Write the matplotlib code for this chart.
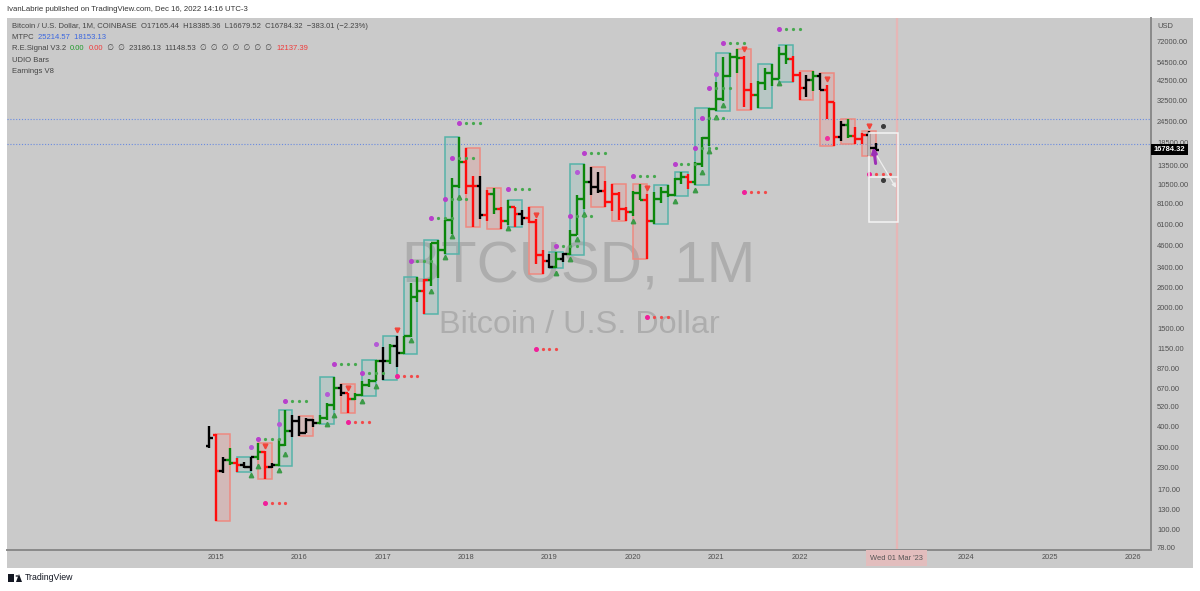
import numpy as np
import pandas as pd
import matplotlib
matplotlib.use("Agg")
import matplotlib.pyplot as plt
from matplotlib.patches import Rectangle, Circle, Polygon
from matplotlib.ticker import NullLocator, NullFormatter

FONT = ["Liberation Sans", "DejaVu Sans"]
plt.rcParams["font.family"] = FONT

# ---------------------------------------------------------------- data
months = pd.period_range("2014-12", "2022-12", freq="M")
opens = [305,
         355, 218, 254, 244, 236, 230, 263, 284, 230, 236, 313, 377,
         430, 368, 437, 416, 448, 531, 673, 624, 575, 609, 700, 742,
         963, 970, 1190, 1080, 1350, 2300, 2480, 2870, 4730, 4340, 6450, 10200,
         14160, 10220, 10330, 6920, 9240, 7490, 6390, 7730, 7000, 6630, 6330, 4020,
         3740, 3460, 3850, 4100, 5320, 8560, 10820, 10080, 9600, 8300, 9150, 7540,
         7190, 9350, 8530, 6410, 8620, 9450, 9140, 11330, 11650, 10780, 13800, 19700,
         28990, 33110, 45160, 58800, 57700, 37300, 35040, 41460, 47100, 43800, 61300, 57000,
         46200, 38500, 43200, 45500, 37700, 31800, 19950, 23300, 20050, 19420, 20490, 17165.44]
highs = [400,
         360, 265, 298, 261, 247, 265, 318, 285, 243, 336, 502, 467,
         463, 448, 440, 466, 550, 780, 705, 627, 630, 740, 760, 980,
         1160, 1210, 1350, 1350, 2780, 3000, 2930, 4750, 4980, 6470, 11500, 19890,
         17250, 11790, 11700, 9760, 10000, 7780, 8500, 7760, 7410, 7680, 6600, 4310,
         4100, 4200, 4150, 5650, 9100, 13880, 13200, 12330, 10950, 10540, 9510, 7750,
         9580, 10500, 9190, 9470, 10070, 10380, 11450, 12480, 12090, 14100, 19900, 29300,
         41990, 58350, 61790, 64900, 59600, 41300, 42300, 50500, 52950, 67000, 69000, 59100,
         47950, 45800, 48200, 47500, 40000, 32000, 24700, 25200, 22800, 21100, 21480, 18385.36]
lows = [300,
        111, 212, 236, 215, 229, 220, 253, 196, 228, 235, 305, 348,
        352, 366, 395, 413, 438, 500, 605, 480, 570, 605, 680, 740,
        750, 930, 890, 1060, 1340, 2130, 1830, 2670, 2950, 4110, 5400, 10000,
        9200, 5870, 6600, 6430, 7000, 5750, 6070, 5880, 6100, 6200, 3600, 3120,
        3400, 3380, 3700, 4060, 5300, 7500, 9060, 9350, 7710, 7300, 6520, 6430,
        6850, 8450, 3850, 6150, 8120, 8900, 8980, 10550, 9880, 10400, 13200, 17600,
        28130, 32300, 45000, 47000, 30000, 28800, 29300, 37300, 39600, 43300, 53250, 41900,
        32900, 34300, 37200, 37700, 25400, 17600, 18800, 19600, 18150, 18200, 15480, 16679.52]
closes = [340,
          218, 254, 244, 236, 230, 263, 284, 230, 236, 313, 377, 430,
          368, 437, 416, 448, 531, 673, 624, 575, 609, 700, 742, 963,
          970, 1190, 1080, 1350, 2300, 2480, 2870, 4730, 4340, 6450, 10200, 14160,
          10220, 10330, 6920, 9240, 7490, 6390, 7730, 7000, 6630, 6330, 4020, 3740,
          3460, 3850, 4100, 5320, 8560, 10820, 10080, 9600, 8300, 9150, 7540, 7190,
          9350, 8530, 6410, 8620, 9450, 9140, 11330, 11650, 10780, 13800, 19700, 28990,
          33110, 45160, 58800, 57700, 37300, 35040, 41460, 47100, 43800, 61300, 57000, 46200,
          38500, 43200, 45500, 37700, 31800, 19950, 23300, 20050, 19420, 20490, 17165, 16784.32]
# UDIO bar colouring: K = black, R = red, G = green
bar_states = ("K "
              "R K G R K K G R K G G K "
              "K K K G G G K R G G G G "
              "K G K G G G R G G G G G "
              "R R K R G R G R K R R R "
              "K G K G G G K K R R R R "
              "G G R G G G G G R G G G "
              "G G G G R R G G G G G R "
              "R K G K R R K G R R K K").split()

# R.E.Signal marks (month, price)
up_tri_months = ["2015-06", "2015-07", "2015-10", "2015-11", "2016-05", "2016-06", "2016-10",
                 "2016-12", "2017-05", "2017-08", "2017-10", "2017-11", "2017-12", "2018-07",
                 "2019-02", "2019-04", "2019-05", "2019-06", "2020-01", "2020-07", "2020-10",
                 "2020-11", "2020-12", "2021-01", "2021-02", "2021-10"]
up_tri_prices = [207, 234, 221, 275, 412, 465, 564, 690, 1291, 2495, 3945, 5212, 8870, 5794,
                 3155, 3856, 4990, 7000, 6412, 8375, 9710, 12440, 16450, 26100, 30500, 41000]
dn_tri_months = ["2015-08", "2016-08", "2017-03", "2018-11", "2020-03", "2021-05", "2022-05", "2022-11"]
dn_tri_prices = [306, 673, 1466, 6920, 9930, 64900, 43250, 23186.13]
green_seq_months = ["2015-07", "2015-11", "2016-06", "2016-10", "2017-05", "2017-08", "2017-10",
                    "2017-11", "2017-12", "2018-07", "2019-02", "2019-04", "2019-06", "2020-01",
                    "2020-07", "2020-10", "2020-11", "2020-12", "2021-02", "2021-10"]
green_seq_prices = [335, 560, 929, 817, 3725, 6680, 8590, 15030, 23900, 9800, 4550, 6840,
                    16060, 11770, 13730, 17180, 25770, 38500, 71000, 85100]
red_seq_months = ["2015-08", "2016-08", "2017-03", "2018-11", "2020-03", "2021-05", "2022-11"]
red_seq_prices = [142, 425, 787, 1130, 1746, 9480, 12137.39]
purple_dot_months = ["2015-06", "2015-10", "2016-05", "2016-12", "2019-05", "2021-01"]
purple_dot_prices = [301, 411, 623, 1218, 12340, 46500]
pink_dot_months = ["2022-05"]
pink_dot_prices = [19500]
dark_dot_months = ["2023-01", "2023-01"]
dark_dot_prices = [23186.13, 11148.53]

# drawings (month index from Jan 2015, price)
purple_arrow_m = [95.0, 94.6]
purple_arrow_p = [13400, 18000]
proj_box_m = [94.0, 98.1]
proj_levels = [21000, 11550, 6300]
proj_arrow_m = [94.5, 98.1]
proj_arrow_p = [17060, 9700]

mtpc_levels = [25214.57, 18153.13]
crosshair_month = "2023-03"
last_price = 16784.32

y_ticks = [72000, 54500, 42500, 32500, 24500, 18500, 13500, 10500, 8100, 6100, 4600, 3400,
           2600, 2000, 1500, 1150, 870, 670, 520, 400, 300, 230, 170, 130, 100, 78]
x_years = [2015, 2016, 2017, 2018, 2019, 2020, 2021, 2022, 2024, 2025, 2026]


def midx(s):
    p = pd.Period(s, freq="M")
    return (p.year - 2015) * 12 + (p.month - 1)


# ---------------------------------------------------------------- figure
W, H = 1200, 591
BG = "#cacaca"
fig = plt.figure(figsize=(W / 100, H / 100), dpi=100)
fig.patch.set_facecolor("white")
fig.add_artist(Rectangle((7 / W, 1 - 568 / H), (1193 - 7) / W, (568 - 18) / H,
                         transform=fig.transFigure, facecolor=BG, edgecolor="none", zorder=-5))

AX_L, AX_R, AX_T, AX_B = 7, 1151, 18, 550
ax = fig.add_axes([AX_L / W, 1 - AX_B / H, (AX_R - AX_L) / W, (AX_B - AX_T) / H])
ax.set_facecolor(BG)

# scale calibration (month spacing / decade height of the reference)
PX_MONTH = 6.947
X0_PX = 216.0
PX_DEC = 170.55
REF_P, REF_Y = 72000, 41.7
ax.set_xlim((AX_L - X0_PX) / PX_MONTH, (AX_R - X0_PX) / PX_MONTH)
ax.set_yscale("log")
top = 10 ** (np.log10(REF_P) + (REF_Y - AX_T) / PX_DEC)
bot = 10 ** (np.log10(REF_P) - (AX_B - REF_Y) / PX_DEC)
ax.set_ylim(bot, top)

# watermark
ax.text(0.5, 1 - (282 - AX_T) / (AX_B - AX_T), "BTCUSD, 1M", transform=ax.transAxes,
        ha="center", va="baseline", fontsize=42, color="#adadad", zorder=0.5,
        family="Liberation Sans")
ax.text(0.5, 1 - (333 - AX_T) / (AX_B - AX_T), "Bitcoin / U.S. Dollar", transform=ax.transAxes,
        ha="center", va="baseline", fontsize=23.3, color="#adadad", zorder=0.5,
        family="Liberation Sans")

# crosshair
cx = midx(crosshair_month)
ax.axvline(cx, color="#e6b6b6", lw=1.6, zorder=1)

# MTPC levels
for lv in mtpc_levels:
    ax.axhline(lv, color="#6a8be0", lw=0.8, ls=(0, (1, 1.6)), zorder=1.2)

# quarterly boxes
xm = np.array([midx(str(p)) for p in months], dtype=float)
O = np.array(opens, float); Hh = np.array(highs, float)
Lw = np.array(lows, float); C = np.array(closes, float)
start = 1  # Jan 2015
for q in range((len(xm) - start) // 3):
    sl = slice(start + 3 * q, start + 3 * q + 3)
    qh, ql = Hh[sl].max(), Lw[sl].min()
    up = C[sl][-1] > O[sl][0]
    if up:
        fc, ec = (0.30, 0.71, 0.67, 0.14), "#55b3a9"
    else:
        fc, ec = (0.94, 0.50, 0.47, 0.22), "#ee8a80"
    x_a, x_b = xm[sl][0], xm[sl][-1]
    ax.add_patch(Rectangle((x_a, ql), x_b - x_a, qh - ql, facecolor=fc, edgecolor=ec,
                           lw=1.1, zorder=2))

# bars
cmap = {"G": "#0b870b", "R": "#ff0d0d", "K": "#000000"}
cols = [cmap[s] for s in bar_states]
tick = 0.5
ax.vlines(xm, Lw, Hh, colors=cols, lw=1.7, zorder=3)
ax.hlines(O, xm - tick, xm, colors=cols, lw=1.7, zorder=3)
ax.hlines(C, xm, xm + tick, colors=cols, lw=1.7, zorder=3)

# signal marks
HEAD, DOT = 2.6, 1.3
ax.plot([midx(m) for m in up_tri_months], up_tri_prices, ls="none", marker="^", ms=3.2,
        color="#3c9a48", zorder=4)
ax.plot([midx(m) for m in dn_tri_months], dn_tri_prices, ls="none", marker="v", ms=3.4,
        color="#f2443a", zorder=4)
for m, p in zip(green_seq_months, green_seq_prices):
    i = midx(m)
    ax.plot([i], [p], ls="none", marker="o", ms=HEAD, color="#b83fcc", zorder=4)
    ax.plot([i + 1, i + 2, i + 3], [p] * 3, ls="none", marker="o", ms=DOT, color="#46a84e", zorder=4)
for m, p in zip(red_seq_months, red_seq_prices):
    i = midx(m)
    ax.plot([i], [p], ls="none", marker="o", ms=HEAD, color="#f01f9a", zorder=4)
    ax.plot([i + 1, i + 2, i + 3], [p] * 3, ls="none", marker="o", ms=DOT, color="#f24a4a", zorder=4)
ax.plot([midx(m) for m in purple_dot_months], purple_dot_prices, ls="none", marker="o", ms=HEAD,
        color="#b45ad6", zorder=4)
ax.plot([midx(m) for m in pink_dot_months], pink_dot_prices, ls="none", marker="o", ms=HEAD,
        color="#f0309e", zorder=4)
ax.plot([midx(m) for m in dark_dot_months], dark_dot_prices, ls="none", marker="o", ms=HEAD,
        color="#3a3a3a", zorder=4)

# projection drawing
ax.add_patch(Rectangle((proj_box_m[0], proj_levels[2]), proj_box_m[1] - proj_box_m[0],
                       proj_levels[0] - proj_levels[2], facecolor="none", edgecolor="#f4f4f4",
                       lw=1.1, zorder=4.5))
ax.hlines(proj_levels[1], proj_box_m[0], proj_box_m[1], color="#f4f4f4", lw=1.1, zorder=4.5)
ax.annotate("", xy=(proj_arrow_m[1], proj_arrow_p[1]), xytext=(proj_arrow_m[0], proj_arrow_p[0]),
            arrowprops=dict(arrowstyle="-|>", color="#eeeeee", lw=0.9, mutation_scale=6),
            zorder=4.6)
ax.annotate("", xy=(purple_arrow_m[1], purple_arrow_p[1]), xytext=(purple_arrow_m[0], purple_arrow_p[0]),
            arrowprops=dict(arrowstyle="-|>", color="#9c2fb5", lw=2.2, mutation_scale=7),
            zorder=4.7)

# axes styling
for s in ["top", "left"]:
    ax.spines[s].set_visible(False)
for s in ["right", "bottom"]:
    ax.spines[s].set_color("#8a8a8a")
    ax.spines[s].set_linewidth(1.4)
ax.yaxis.tick_right()
ax.set_yticks(y_ticks, [f"{v:.2f}" for v in y_ticks])
ax.yaxis.set_minor_locator(NullLocator())
ax.yaxis.set_minor_formatter(NullFormatter())
ax.set_xticks([(y - 2015) * 12 for y in x_years], [str(y) for y in x_years])
ax.tick_params(axis="y", length=0, pad=4.3, labelsize=5.4, labelcolor="#4f4f4f")
ax.tick_params(axis="x", length=0, pad=3.0, labelsize=5.4, labelcolor="#4f4f4f")

ax.text(1 + 6 / (AX_R - AX_L), 1 - (26.7 - AX_T) / (AX_B - AX_T), "USD", transform=ax.transAxes,
        ha="left", va="center", fontsize=5.4, color="#4f4f4f")
ax.text(1 + 2.5 / (AX_R - AX_L), last_price, f"{last_price:.2f}", transform=ax.get_yaxis_transform(),
        ha="left", va="center", fontsize=5.4, color="white", fontweight="bold", zorder=10,
        clip_on=False, bbox=dict(boxstyle="square,pad=0.32", fc="black", ec="none"))
ax.text(cx, -(558 - AX_B) / (AX_B - AX_T), "Wed 01 Mar '23", transform=ax.get_xaxis_transform(),
        ha="center", va="center", fontsize=5.4, color="#555555", zorder=10, clip_on=False,
        bbox=dict(boxstyle="square,pad=0.55", fc="#e2bdbd", ec="none"))

# ---------------------------------------------------------------- header / legend
renderer = fig.canvas.get_renderer()


def seq_text(x, y, parts, size):
    for s, c in parts:
        t = fig.text(x / W, 1 - y / H, s, color=c, fontsize=size, ha="left", va="center")
        x += t.get_window_extent(renderer).width


DK = "#444444"
seq_text(7, 9.3, [("IvanLabrie published on TradingView.com, Dec 16, 2022 14:16 UTC-3", "#333333")], 5.6)
LS = 5.5
seq_text(11.7, 26.7, [("Bitcoin / U.S. Dollar, 1M, COINBASE  O17165.44  H18385.36  L16679.52  "
                       "C16784.32  \u2212383.01 (\u22122.23%)", DK)], LS)
seq_text(11.7, 37.5, [("MTPC  ", DK), ("25214.57  18153.13", "#3a66e0")], LS)
seq_text(11.7, 49.0, [("R.E.Signal V3.2  ", DK), ("0.00", "#1f9a2a"), ("  ", DK), ("0.00", "#f03a3a"),
                      ("  \u2205  \u2205  23186.13  11148.53  \u2205  \u2205  \u2205  \u2205  \u2205  \u2205  \u2205  ", DK),
                      ("12137.39", "#f03a3a")], LS)
seq_text(11.7, 60.5, [("UDIO Bars", DK)], LS)
seq_text(11.7, 71.5, [("Earnings V8", DK)], LS)

# TradingView footer
fig.add_artist(Rectangle((8 / W, 1 - 582 / H), 6 / W, 8 / H, transform=fig.transFigure,
                         facecolor="#131722", edgecolor="none"))
fig.add_artist(Circle((17 / W, 1 - 576 / H), 1.5 / W, transform=fig.transFigure,
                      facecolor="#131722", edgecolor="none"))
fig.add_artist(Polygon([(16 / W, 1 - 582 / H), (19 / W, 1 - 574 / H), (22 / W, 1 - 582 / H)],
                       closed=True, transform=fig.transFigure, facecolor="#131722", edgecolor="none"))
fig.text(25 / W, 1 - 578 / H, "TradingView", fontsize=6.3, color="#131722", ha="left", va="center")

fig.savefig("out.png", dpi=100, facecolor="white")
